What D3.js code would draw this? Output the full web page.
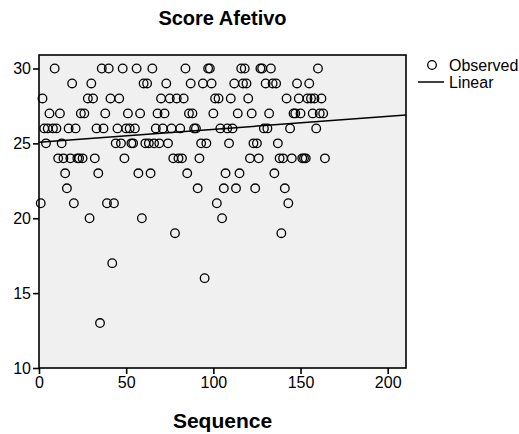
<!DOCTYPE html>
<html>
<head>
<meta charset="utf-8">
<script src="https://cdn.jsdelivr.net/npm/d3@7"></script>
<style>
  html, body { margin: 0; padding: 0; background: #fff; }
  svg { display: block; font-family: Arial, "Liberation Sans", sans-serif; }
</style>
</head>
<body>
<svg id="chart" width="519" height="434"></svg>
<script>
// Sequence number of each case and its Score Afetivo value
const sequence = [
  1, 2, 3, 4, 5, 6, 8, 9, 10, 11, 12, 13, 14, 15, 16, 17, 18, 19, 20, 21,
  22, 23, 24, 25, 26, 28, 29, 30, 31, 32, 33, 34, 35, 36, 37, 38, 39, 40, 41, 42,
  43, 44, 45, 46, 47, 48, 49, 50, 51, 52, 53, 54, 55, 56, 57, 58, 59, 60, 61, 62,
  63, 64, 65, 66, 67, 68, 69, 70, 71, 72, 73, 74, 75, 76, 77, 78, 79, 80, 81, 82,
  83, 84, 85, 86, 87, 88, 89, 90, 91, 92, 93, 94, 95, 96, 97, 98, 99, 100, 101, 102,
  103, 104, 105, 106, 107, 108, 109, 110, 111, 112, 113, 114, 115, 116, 117, 118, 119, 120, 121, 122,
  123, 124, 125, 126, 127, 128, 129, 130, 131, 132, 133, 134, 135, 136, 137, 138, 139, 140, 141, 142,
  143, 144, 145, 146, 147, 148, 149, 150, 151, 152, 153, 154, 155, 156, 157, 158, 159, 160, 161, 162,
  163, 164
];
const score = [
  21, 28, 26, 25, 26, 27, 26, 30, 26, 24, 27, 25, 24, 23, 22, 26, 24, 29, 21, 26,
  24, 24, 27, 24, 27, 28, 20, 29, 28, 24, 26, 23, 13, 30, 26, 27, 21, 30, 28, 17,
  21, 25, 26, 28, 25, 30, 24, 26, 27, 26, 25, 25, 26, 30, 23, 27, 20, 29, 25, 29,
  25, 23, 30, 25, 26, 27, 25, 28, 26, 27, 29, 25, 28, 26, 24, 19, 28, 24, 26, 24,
  28, 30, 23, 27, 29, 27, 26, 26, 22, 24, 25, 29, 16, 25, 30, 30, 29, 27, 28, 21,
  28, 26, 20, 22, 23, 26, 25, 28, 26, 29, 22, 27, 23, 30, 29, 30, 29, 28, 24, 27,
  25, 22, 25, 24, 30, 30, 26, 29, 26, 27, 30, 29, 23, 29, 25, 24, 19, 24, 22, 28,
  21, 26, 24, 27, 27, 29, 28, 27, 24, 24, 24, 28, 29, 28, 27, 28, 26, 30, 27, 28,
  27, 24
];
const xTicks = [0, 50, 100, 150, 200];
const yTicks = [10, 15, 20, 25, 30];

const svg = d3.select("#chart");
const plot = { left: 39, right: 406, top: 55, bottom: 368 };

const x = d3.scaleLinear().domain([0, 210.5]).range([plot.left, plot.right]);
const y = d3.scaleLinear().domain([10, 30.9]).range([plot.bottom, plot.top]);

// plot background
svg.append("rect")
  .attr("x", plot.left).attr("y", plot.top)
  .attr("width", plot.right - plot.left).attr("height", plot.bottom - plot.top)
  .attr("fill", "#f0f0f0");

// clip so the fit line stays inside the frame
svg.append("clipPath").attr("id", "plotClip")
  .append("rect")
  .attr("x", plot.left).attr("y", plot.top)
  .attr("width", plot.right - plot.left).attr("height", plot.bottom - plot.top);

// observed points
const points = sequence.map((s, i) => ({ s, v: score[i] }));
svg.append("g").selectAll("circle")
  .data(points).join("circle")
  .attr("cx", d => x(d.s))
  .attr("cy", d => y(d.v))
  .attr("r", 4.3)
  .attr("fill", "none")
  .attr("stroke", "#000")
  .attr("stroke-width", 1.3);

// least-squares linear fit of score on sequence
const mx = d3.mean(sequence), my = d3.mean(score);
const sxy = d3.sum(points, d => (d.s - mx) * (d.v - my));
const sxx = d3.sum(points, d => (d.s - mx) ** 2);
const slope = sxy / sxx;
const intercept = my - slope * mx;
const fit = x.domain().map(s => ({ s, v: intercept + slope * s }));

svg.append("path")
  .datum(fit)
  .attr("clip-path", "url(#plotClip)")
  .attr("fill", "none")
  .attr("stroke", "#000")
  .attr("stroke-width", 1.5)
  .attr("d", d3.line().x(d => x(d.s)).y(d => y(d.v)));

// frame
svg.append("rect")
  .attr("x", plot.left).attr("y", plot.top)
  .attr("width", plot.right - plot.left).attr("height", plot.bottom - plot.top)
  .attr("fill", "none").attr("stroke", "#000").attr("stroke-width", 1.6);

// axes
const xAxis = svg.append("g")
  .attr("transform", `translate(0,${plot.bottom})`)
  .call(d3.axisBottom(x).tickValues(xTicks).tickSize(6).tickPadding(3).tickFormat(d3.format("d")));
const yAxis = svg.append("g")
  .attr("transform", `translate(${plot.left},0)`)
  .call(d3.axisLeft(y).tickValues(yTicks).tickSize(6).tickPadding(2).tickFormat(d3.format("d")));

[xAxis, yAxis].forEach(g => {
  g.select(".domain").remove();
  g.selectAll(".tick line").attr("stroke", "#000").attr("stroke-width", 1.6);
  g.selectAll(".tick text")
    .attr("fill", "#000")
    .style("font-family", "Arial, 'Liberation Sans', sans-serif")
    .style("font-size", "16px");
});

// titles
svg.append("text")
  .attr("x", (plot.left + plot.right) / 2).attr("y", 25)
  .attr("text-anchor", "middle")
  .style("font-size", "20px").style("font-weight", "bold")
  .text("Score Afetivo");

svg.append("text")
  .attr("x", (plot.left + plot.right) / 2).attr("y", 428)
  .attr("text-anchor", "middle")
  .style("font-size", "21px").style("font-weight", "bold")
  .text("Sequence");

// legend
const legend = svg.append("g");
legend.append("circle")
  .attr("cx", 432).attr("cy", 65).attr("r", 4.3)
  .attr("fill", "none").attr("stroke", "#000").attr("stroke-width", 1.3);
legend.append("text")
  .attr("x", 449).attr("y", 71)
  .style("font-size", "16px")
  .text("Observed");
legend.append("line")
  .attr("x1", 418).attr("x2", 444).attr("y1", 82).attr("y2", 82)
  .attr("stroke", "#000").attr("stroke-width", 1.5);
legend.append("text")
  .attr("x", 449).attr("y", 88)
  .style("font-size", "16px")
  .text("Linear");
</script>
</body>
</html>
